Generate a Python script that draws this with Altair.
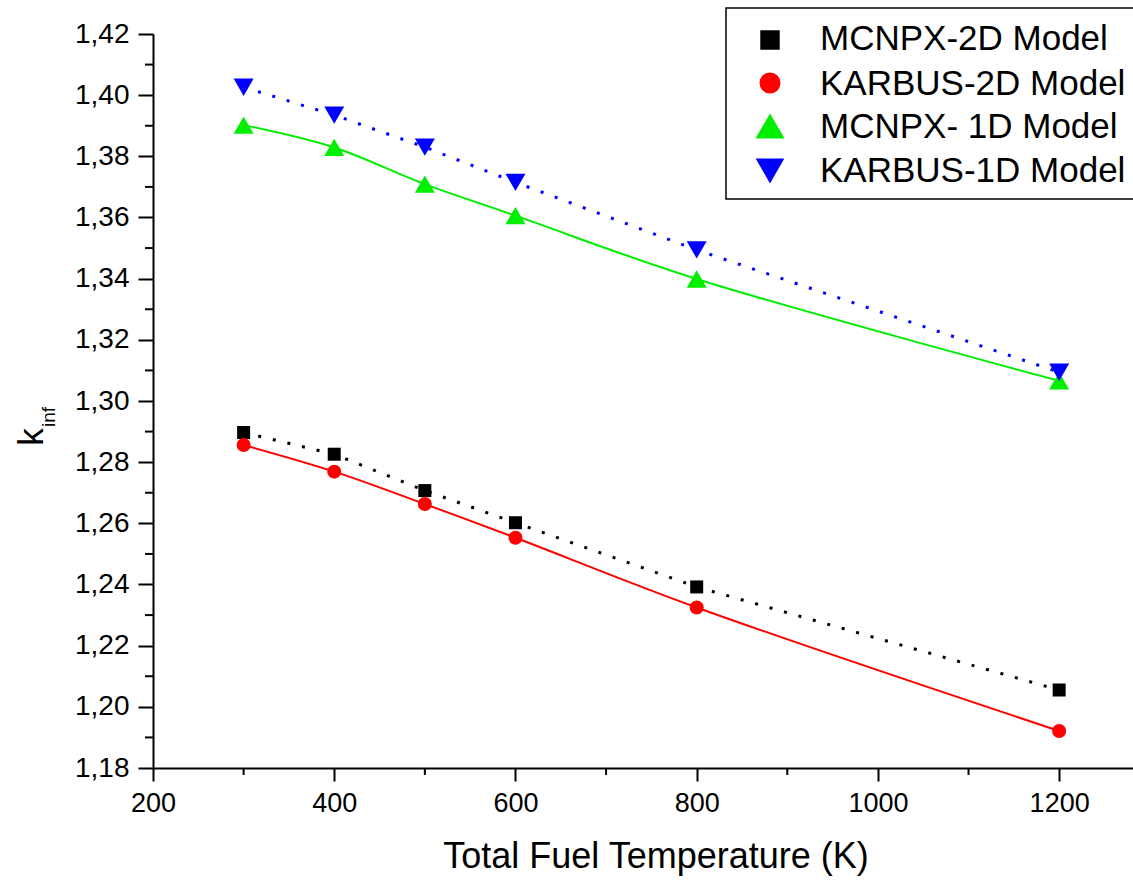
import altair as alt
import pandas as pd

# Fuel temperatures (K) and k-inf results for each model
temps = [300, 400, 500, 600, 800, 1200]
series_names = ["MCNPX-2D Model", "KARBUS-2D Model", "MCNPX- 1D Model", "KARBUS-1D Model"]
mcnpx_2d = [1.2897, 1.2826, 1.2707, 1.2602, 1.2392, 1.2055]
karbus_2d = [1.2856, 1.2769, 1.2663, 1.2553, 1.2325, 1.1921]
mcnpx_1d = [1.3902, 1.3829, 1.3709, 1.3606, 1.3399, 1.3066]
karbus_1d = [1.4026, 1.3935, 1.3830, 1.3715, 1.3494, 1.3094]

series_colors = ["#000000", "#ff0000", "#00ee00", "#0000ff"]
series_shapes = ["square", "circle", "triangle-up", "triangle-down"]
marker_sizes = [169, 196, 400, 400]
legend_sizes = [380, 441, 850, 820]
dotted_series = ["MCNPX-2D Model", "KARBUS-1D Model"]
solid_series = ["KARBUS-2D Model", "MCNPX- 1D Model"]

# Axis tick values
x_major = [200, 400, 600, 800, 1000, 1200]
x_minor = [300, 500, 700, 900, 1100]
y_major = [1.18, 1.20, 1.22, 1.24, 1.26, 1.28, 1.30, 1.32, 1.34, 1.36, 1.38, 1.40, 1.42]
y_minor = [1.19, 1.21, 1.23, 1.25, 1.27, 1.29, 1.31, 1.33, 1.35, 1.37, 1.39, 1.41]

FONT = "Liberation Sans"
W, H = 980, 734

rows = []
for name, vals in zip(series_names, [mcnpx_2d, karbus_2d, mcnpx_1d, karbus_1d]):
    for t, v in zip(temps, vals):
        rows.append({"series": name, "T": t, "k": v})
df = pd.DataFrame(rows)

xs = alt.Scale(domain=[200, 1281.5], nice=False, zero=False)
ys = alt.Scale(domain=[1.18, 1.42], nice=False, zero=False)
cs = alt.Scale(domain=series_names, range=series_colors)
ss = alt.Scale(domain=series_names, range=series_shapes)
zs = alt.Scale(type="ordinal", domain=series_names, range=marker_sizes)

x_axis = alt.Axis(values=x_major, format="d", title=None, grid=False,
                  labelFont=FONT, labelFontSize=27, labelColor="black",
                  labelPadding=9, tickSize=13, tickWidth=2, tickColor="black",
                  domainColor="black", domainWidth=2, labelFlush=False)
y_axis = alt.Axis(values=y_major, title=None, grid=False,
                  labelExpr="replace(format(datum.value, '.2f'), '.', ',')",
                  labelFont=FONT, labelFontSize=28, labelColor="black",
                  labelPadding=9, tickSize=15, tickWidth=2, tickColor="black",
                  domainColor="black", domainWidth=2, labelFlush=False)

X = alt.X("T:Q", scale=xs, axis=x_axis)
Y = alt.Y("k:Q", scale=ys, axis=y_axis)

base = alt.Chart(df)

dotted = base.transform_filter(
    alt.FieldOneOfPredicate(field="series", oneOf=dotted_series)
).mark_line(strokeWidth=3, strokeDash=[3, 12]).encode(
    x=X, y=Y,
    color=alt.Color("series:N", scale=cs, legend=None),
)

solid = base.transform_filter(
    alt.FieldOneOfPredicate(field="series", oneOf=solid_series)
).mark_line(strokeWidth=2, interpolate="catmull-rom").encode(
    x=X, y=Y,
    color=alt.Color("series:N", scale=cs, legend=None),
)

points = base.mark_point(filled=True, opacity=1, strokeWidth=0).encode(
    x=X, y=Y,
    color=alt.Color("series:N", scale=cs, legend=None),
    shape=alt.Shape("series:N", scale=ss, legend=None),
    size=alt.Size("series:N", scale=zs, legend=None),
)

# Minor ticks on both axes
x_minor_ticks = alt.Chart(pd.DataFrame({"T": x_minor})).mark_rule(
    color="black", strokeWidth=2
).encode(x=X, y=alt.value(H), y2=alt.value(H + 7))

y_minor_ticks = alt.Chart(pd.DataFrame({"k": y_minor})).mark_rule(
    color="black", strokeWidth=2
).encode(y=Y, x=alt.value(0), x2=alt.value(-8))

# Axis titles
x_title = alt.Chart(pd.DataFrame({"t": ["Total Fuel Temperature (K)"]})).mark_text(
    font=FONT, fontSize=36, color="black", align="center", baseline="alphabetic"
).encode(text="t:N", x=alt.value(503), y=alt.value(834))

k_title = alt.Chart(pd.DataFrame({"t": ["k"]})).mark_text(
    font=FONT, fontSize=35, color="black", align="center", baseline="alphabetic", angle=270
).encode(text="t:N", x=alt.value(-110), y=alt.value(403))

inf_title = alt.Chart(pd.DataFrame({"t": ["inf"]})).mark_text(
    font=FONT, fontSize=19, color="black", align="center", baseline="alphabetic", angle=270
).encode(text="t:N", x=alt.value(-98), y=alt.value(383))

# Legend box with symbols and labels
legend_box = alt.Chart(pd.DataFrame({"a": [0]})).mark_rect(
    fill="white", stroke="black", strokeWidth=1.5
).encode(x=alt.value(573), x2=alt.value(1020), y=alt.value(-26), y2=alt.value(165))

legend_layers = [legend_box]
sym_y = [6, 49, 92, 137]
txt_y = [16, 61, 104, 148]
for i, name in enumerate(series_names):
    legend_layers.append(
        alt.Chart(pd.DataFrame({"s": [name]})).mark_point(
            filled=True, opacity=1, strokeWidth=0,
            shape=series_shapes[i], size=legend_sizes[i], color=series_colors[i]
        ).encode(x=alt.value(617), y=alt.value(sym_y[i]))
    )
    legend_layers.append(
        alt.Chart(pd.DataFrame({"s": [name]})).mark_text(
            font=FONT, fontSize=35, color="black", align="left", baseline="alphabetic"
        ).encode(text="s:N", x=alt.value(667), y=alt.value(txt_y[i]))
    )

chart = alt.layer(
    dotted, solid, points, x_minor_ticks, y_minor_ticks,
    x_title, k_title, inf_title, *legend_layers
).properties(
    width=W, height=H,
    padding={"left": 153, "top": 34, "right": 0, "bottom": 112},
    autosize=alt.AutoSizeParams(type="none"),
    background="white",
).configure_view(stroke=None)

chart.save("out.html", embed_options={"renderer": "svg", "actions": False})
